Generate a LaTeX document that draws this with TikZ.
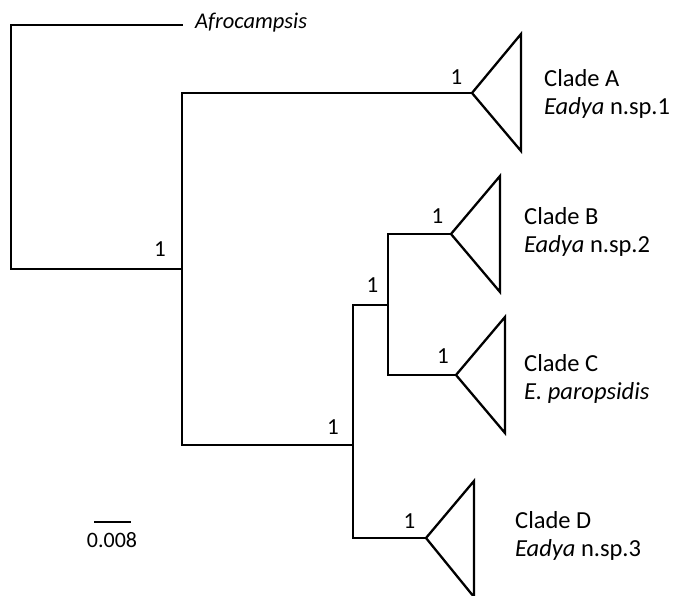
\documentclass[tikz,border=0pt]{standalone}
\usepackage{fontspec}
\setmainfont{Carlito}
\begin{document}
\begin{tikzpicture}[x=1pt,y=-1pt,branch/.style={draw, line width=2.3pt, line join=miter},support/.style={anchor=base, inner sep=0pt, font=\fontsize{23}{27}\selectfont},clade/.style={anchor=west, align=left, inner sep=0pt, font=\fontsize{24.5}{28}\selectfont}]
        \useasboundingbox (0,0) rectangle (674,596);
        % tree nodes
        \coordinate (root) at (11,147);
        \coordinate (out) at (183,25);
        \coordinate (n1) at (182,269);
        \coordinate (n2) at (353,445);
        \coordinate (n3) at (388,305);
        \coordinate (tA) at (472,93);
        \coordinate (tB) at (451,234);
        \coordinate (tC) at (456,375);
        \coordinate (tD) at (426,538);
        % branches
        \draw[branch] (root) |- (out);
        \draw[branch] (root) |- (n1);
        \draw[branch] (n1) |- (tA);
        \draw[branch] (n1) |- (n2);
        \draw[branch] (n2) |- (n3);
        \draw[branch] (n2) |- (tD);
        \draw[branch] (n3) |- (tB);
        \draw[branch] (n3) |- (tC);
        % collapsed clades
        \draw[branch] (tA) -- ++(49,-59) -- ++(0,117) -- cycle;
        \draw[branch] (tB) -- ++(49,-58) -- ++(0,116) -- cycle;
        \draw[branch] (tC) -- ++(49,-58) -- ++(0,116) -- cycle;
        \draw[branch] (tD) -- ++(48,-57) -- ++(0,116) -- cycle;
        % labels
        \node[anchor=base west, inner sep=0pt, font=\fontsize{22.5}{26}\selectfont\itshape] (afro) at (195,29) {Afrocampsis};
        \node[clade] (A) at (544,94) {Clade A\\\textit{Eadya} n.sp.1};
        \node[clade] (B) at (524,232) {Clade B\\\textit{Eadya} n.sp.2};
        \node[clade] (C) at (524,379) {Clade C\\\textit{E. paropsidis}};
        \node[clade] (D) at (515,536) {Clade D\\\textit{Eadya} n.sp.3};
        % support values
        \node[support] (s1) at (160,256) {1};
        \node[support] (sA) at (456.5,85) {1};
        \node[support] (s2) at (333,434) {1};
        \node[support] (s3) at (372.5,292) {1};
        \node[support] (sB) at (437.5,223) {1};
        \node[support] (sC) at (443,363) {1};
        \node[support] (sD) at (409.5,528) {1};
        % scale bar
        \coordinate (bar1) at (94,522);
        \coordinate (bar2) at (131,522);
        \draw[branch] (bar1) -- (bar2);
        \node[anchor=base, inner sep=0pt, font=\fontsize{22}{26}\selectfont] (barlabel) at (112,547) {0.008};
    \end{tikzpicture}
\end{document}
